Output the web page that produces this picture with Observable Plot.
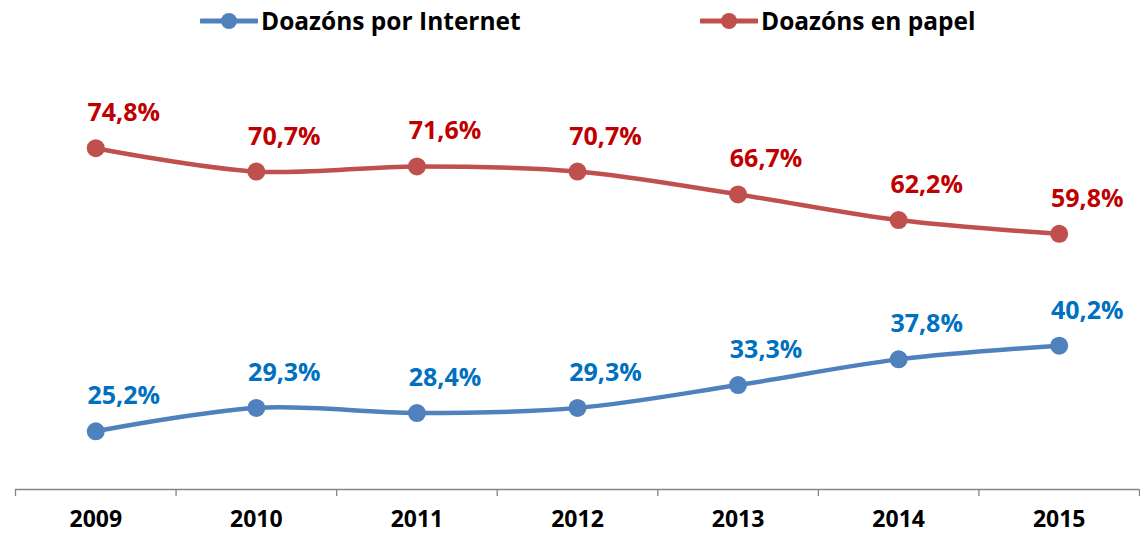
<!DOCTYPE html>
<html><head><meta charset="utf-8">
<script src="https://cdn.jsdelivr.net/npm/d3@7"></script>
<script src="https://cdn.jsdelivr.net/npm/@observablehq/plot@0.6"></script>
<style>
body{margin:0;background:#fff;font-family:"Open Sans",sans-serif;}
#wrap{width:1140px;height:533px;position:relative;}
#legend{height:50px;position:relative;}
.li{position:absolute;top:6px;display:flex;align-items:center;font-weight:bold;font-size:24.5px;line-height:30px;color:#000;}
.li svg{margin-right:3px;}
</style></head>
<body><div id="wrap"><div id="legend"></div><div id="chart"></div></div>
<script>
const years = [2009, 2010, 2011, 2012, 2013, 2014, 2015];
const internet = [25.2, 29.3, 28.4, 29.3, 33.3, 37.8, 40.2];
const papel = [74.8, 70.7, 71.6, 70.7, 66.7, 62.2, 59.8];
const seriesNames = ["Doazóns por Internet", "Doazóns en papel"];
const lineColors = ["#4F81BD", "#C0504D"];
const labelColors = ["#0070C0", "#C00000"];

const data = [];
years.forEach((y, i) => {
  data.push({year: y, value: internet[i], series: seriesNames[0]});
  data.push({year: y, value: papel[i], series: seriesNames[1]});
});
const fmt = v => v.toFixed(1).replace(".", ",") + "%";
const bounds = years.map(y => y - 0.5).concat([years[years.length - 1] + 0.5]);

// legend
const legend = document.getElementById("legend");
const legendX = [200, 700];
seriesNames.forEach((n, i) => {
  const d = document.createElement("div");
  d.className = "li";
  d.style.left = legendX[i] + "px";
  d.innerHTML = `<svg width="58" height="20"><line x1="1" y1="10" x2="57" y2="10" stroke="${lineColors[i]}" stroke-width="5" stroke-linecap="round"/><circle cx="29" cy="10" r="8" fill="${lineColors[i]}"/></svg><span>${n}</span>`;
  legend.appendChild(d);
});

const chart = Plot.plot({
  width: 1140,
  height: 483,
  marginLeft: 15,
  marginRight: 1,
  marginTop: 68,
  marginBottom: 44,
  style: {fontFamily: "'Open Sans', sans-serif", background: "#fff"},
  x: {domain: [years[0] - 0.5, years[years.length - 1] + 0.5], axis: null, label: null},
  y: {domain: [15, 80], axis: null},
  color: {domain: seriesNames, range: lineColors},
  marks: [
    Plot.ruleY([15], {stroke: "#868686", strokeWidth: 1.3}),
    Plot.axisX(bounds, {tickSize: 7, tickFormat: () => "", label: null, stroke: "#868686", strokeWidth: 1.3, strokeOpacity: 1}),
    Plot.axisX(years, {tickSize: 0, tickPadding: 21, label: null, tickFormat: d => String(d), fontSize: 23, fontWeight: "bold", fill: "#000"}),
    Plot.line(data, {x: "year", y: "value", z: "series", stroke: "series", strokeWidth: 4.5, curve: "catmull-rom"}),
    Plot.dot(data, {x: "year", y: "value", fill: "series", r: 9}),
    Plot.text(data, {x: "year", y: "value", text: d => fmt(d.value), dx: 28, dy: -35,
      fill: d => labelColors[seriesNames.indexOf(d.series)], fontSize: 25, fontWeight: "bold"})
  ]
});
document.getElementById("chart").appendChild(chart);
</script></body></html>
